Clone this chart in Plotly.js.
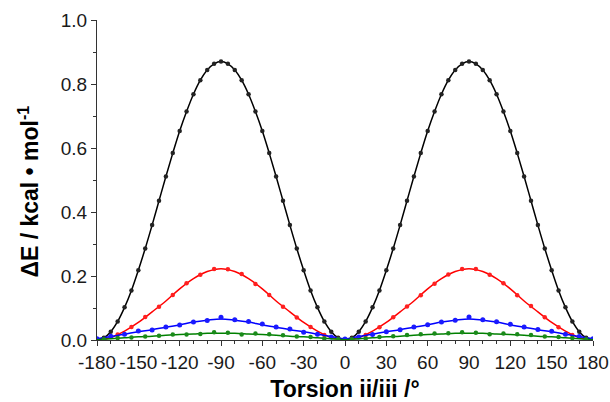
<!DOCTYPE html>
<html><head><meta charset="utf-8">
<script src="https://cdn.plot.ly/plotly-3.0.1.min.js"></script>
<style>html,body{margin:0;padding:0;background:#fff}#c{width:610px;height:402px}</style>
</head><body><div id="c"></div>
<script>
// x grids (degrees)
const x5 = [-180,-175,-170,-165,-160,-155,-150,-145,-140,-135,-130,-125,-120,-115,-110,-105,-100,-95,-90,-85,-80,-75,-70,-65,-60,-55,-50,-45,-40,-35,-30,-25,-20,-15,-10,-5,0,5,10,15,20,25,30,35,40,45,50,55,60,65,70,75,80,85,90,95,100,105,110,115,120,125,130,135,140,145,150,155,160,165,170,175,180];
const x10 = [-180,-170,-160,-150,-140,-130,-120,-110,-100,-90,-80,-70,-60,-50,-40,-30,-20,-10,0,10,20,30,40,50,60,70,80,90,100,110,120,130,140,150,160,170,180];
const xOdd5 = [-175,-165,-155,-145,-135,-125,-115,-105,-95,-85,-75,-65,-55,-45,-35,-25,-15,-5,5,15,25,35,45,55,65,75,85,95,105,115,125,135,145,155,165,175];

// black series (points every 5 deg)
const blackPts = [0,0.007,0.026,0.058,0.102,0.155,0.218,0.286,0.359,0.435,0.511,0.584,0.653,0.714,0.768,0.812,0.844,0.863,0.870,0.863,0.844,0.812,0.768,0.714,0.653,0.584,0.511,0.435,0.359,0.286,0.218,0.155,0.102,0.058,0.026,0.007,0,
  0.007,0.026,0.058,0.102,0.155,0.218,0.286,0.359,0.435,0.511,0.584,0.653,0.714,0.768,0.812,0.844,0.863,0.870,0.863,0.844,0.812,0.768,0.714,0.653,0.584,0.511,0.435,0.359,0.286,0.218,0.155,0.102,0.058,0.026,0.007,0];

// red series
const redFit = [0,0.008,0.028,0.055,0.088,0.122,0.160,0.192,0.214,0.223,0.214,0.192,0.160,0.122,0.088,0.055,0.028,0.008,0,0.008,0.028,0.055,0.088,0.122,0.160,0.192,0.214,0.223,0.214,0.192,0.160,0.122,0.088,0.055,0.028,0.008,0];
const redPts = [0.003,0.017,0.041,0.072,0.104,0.141,0.177,0.204,0.222,0.221,0.206,0.175,0.141,0.104,0.070,0.041,0.016,0.003,0.003,0.016,0.040,0.071,0.105,0.140,0.176,0.205,0.222,0.222,0.204,0.177,0.140,0.106,0.071,0.040,0.016,0.003];

// blue series
const blueFit = [0.004,0.011,0.018,0.026,0.032,0.040,0.047,0.056,0.062,0.066,0.062,0.056,0.047,0.040,0.032,0.026,0.018,0.011,0.004,0.011,0.018,0.026,0.032,0.040,0.047,0.056,0.062,0.066,0.062,0.056,0.047,0.040,0.032,0.026,0.018,0.011,0.004];
const bluePts = [0.004,0.012,0.018,0.028,0.031,0.041,0.047,0.056,0.061,0.071,0.063,0.058,0.050,0.041,0.034,0.024,0.018,0.009,0.003,0.009,0.017,0.026,0.032,0.041,0.048,0.056,0.062,0.072,0.063,0.057,0.049,0.041,0.033,0.027,0.018,0.011,0.004];

// green series
const greenFit = [0.001,0.004,0.007,0.010,0.012,0.015,0.017,0.019,0.021,0.021,0.021,0.019,0.017,0.015,0.012,0.010,0.007,0.004,0.001,0.004,0.007,0.010,0.012,0.015,0.017,0.019,0.021,0.021,0.021,0.019,0.017,0.015,0.012,0.010,0.007,0.004,0.001];
const greenPts = [0.002,0.006,0.008,0.011,0.013,0.017,0.017,0.019,0.024,0.023,0.017,0.020,0.018,0.015,0.011,0.009,0.005,0.002,0.002,0.005,0.009,0.012,0.016,0.018,0.020,0.021,0.024,0.023,0.018,0.020,0.018,0.016,0.011,0.009,0.006,0.002];

const xTickVals = [-180,-150,-120,-90,-60,-30,0,30,60,90,120,150,180];
const xTickText = ["-180","-150","-120","-90","-60","-30","0","30","60","90","120","150","180"];
const yTickVals = [0,0.2,0.4,0.6,0.8,1.0];
const yTickText = ["0.0","0.2","0.4","0.6","0.8","1.0"];

function line(x,y,c){return {x:x,y:y,type:'scatter',mode:'lines',line:{color:c,width:1.5,shape:'spline',smoothing:1},hoverinfo:'skip',showlegend:false};}
function pts(x,y,c,s){return {x:x,y:y,type:'scatter',mode:'markers',marker:{color:c,size:s,symbol:'circle'},showlegend:false};}

const data = [
  line(x5,blackPts,'#000000'), pts(x5,blackPts,'#222222',4.5),
  line(x10,redFit,'#ff0000'), pts(xOdd5,redPts,'#ff2020',4.5),
  line(x10,blueFit,'#0000ff'), pts(x10,bluePts,'#1a1aff',5),
  line(x10,greenFit,'#008000'), pts(xOdd5,greenPts,'#1a8a1a',4.5)
];

const fontFam = 'Liberation Sans, Arial, sans-serif';
const layout = {
  width:610, height:402,
  margin:{l:97,r:17,t:20,b:62,pad:0},
  paper_bgcolor:'#fff', plot_bgcolor:'#fff',
  font:{family:fontFam,size:19,color:'#1a1a1a'},
  xaxis:{range:[-180,180],tickmode:'array',tickvals:xTickVals,ticktext:xTickText,
    ticks:'outside',ticklen:5,tickwidth:1,tickcolor:'#333',
    minor:{tickmode:'linear',tick0:-180,dtick:10,ticks:'outside',ticklen:3,tickcolor:'#333',showgrid:false},
    showline:true,linecolor:'#333',linewidth:1,showgrid:false,zeroline:false,
    tickfont:{size:19,family:fontFam},
    title:{text:'<b>Torsion ii/iii /°</b>',font:{size:23,family:fontFam,color:'#000'},standoff:9}},
  yaxis:{range:[0,1.0],tickmode:'array',tickvals:yTickVals,ticktext:yTickText,
    ticks:'outside',ticklen:5,tickwidth:1,tickcolor:'#333',
    minor:{tickmode:'linear',tick0:0,dtick:0.1,ticks:'outside',ticklen:3,tickcolor:'#333',showgrid:false},
    showline:true,linecolor:'#333',linewidth:1,showgrid:false,zeroline:false,
    tickfont:{size:19,family:fontFam}},
  annotations:[{xref:'paper',yref:'paper',x:-0.139,y:0.464,xanchor:'center',yanchor:'middle',
    text:'<b>ΔE / kcal • mol<sup>-1</sup></b>',textangle:-90,showarrow:false,
    font:{size:23,family:fontFam,color:'#000'}}]
};
Plotly.newPlot('c',data,layout,{staticPlot:true,displayModeBar:false});
</script></body></html>
